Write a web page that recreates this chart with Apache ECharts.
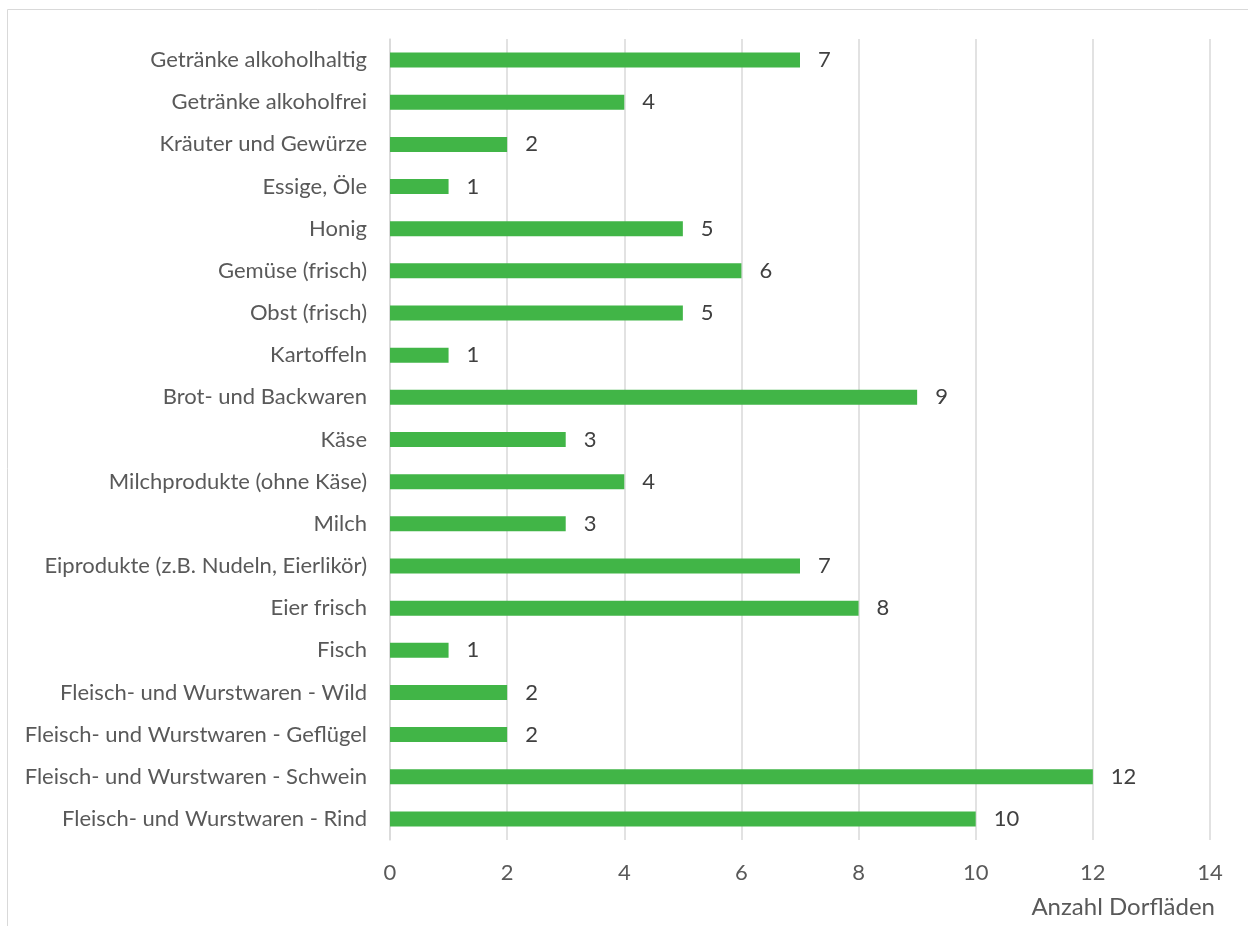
<!DOCTYPE html>
<html>
<head>
<meta charset="utf-8">
<script src="https://cdn.jsdelivr.net/npm/echarts@6/dist/echarts.min.js"></script>
<style>
  html, body { margin: 0; padding: 0; background: #fff; }
  #main { width: 1248px; height: 926px; }
</style>
</head>
<body>
<div id="main"></div>
<script>
// categories listed top to bottom as in the picture
const categories = [
  'Getränke alkoholhaltig',
  'Getränke alkoholfrei',
  'Kräuter und Gewürze',
  'Essige, Öle',
  'Honig',
  'Gemüse (frisch)',
  'Obst (frisch)',
  'Kartoffeln',
  'Brot- und Backwaren',
  'Käse',
  'Milchprodukte (ohne Käse)',
  'Milch',
  'Eiprodukte (z.B. Nudeln, Eierlikör)',
  'Eier frisch',
  'Fisch',
  'Fleisch- und Wurstwaren - Wild',
  'Fleisch- und Wurstwaren - Geflügel',
  'Fleisch- und Wurstwaren - Schwein',
  'Fleisch- und Wurstwaren - Rind'
];
const counts = [7, 4, 2, 1, 5, 6, 5, 1, 9, 3, 4, 3, 7, 8, 1, 2, 2, 12, 10];
const xTicks = { min: 0, max: 14, interval: 2 };
const xName = 'Anzahl Dorfläden';

const font = 'Lato';
const chart = echarts.init(document.getElementById('main'));

chart.setOption({
  animation: false,
  textStyle: { fontFamily: font },
  grid: { left: 390, right: 38, top: 39, bottom: 86, containLabel: false },
  graphic: [{
    type: 'rect',
    shape: { x: 7.5, y: 9.5, width: 1260, height: 940 },
    style: { fill: 'none', stroke: '#d9d9d9', lineWidth: 1 },
    silent: true
  }],
  xAxis: {
    type: 'value',
    min: xTicks.min,
    max: xTicks.max,
    interval: xTicks.interval,
    name: xName,
    nameLocation: 'end',
    nameGap: 5,
    nameTextStyle: {
      fontFamily: font, fontSize: 24, color: '#595959',
      align: 'right', verticalAlign: 'top', padding: [55, 0, 0, 0]
    },
    axisLine: { show: false },
    axisTick: { show: false },
    axisLabel: { fontFamily: font, fontSize: 22, color: '#595959', margin: 22 },
    splitLine: { show: true, lineStyle: { color: '#d9d9d9', width: 1.5 } }
  },
  yAxis: {
    type: 'category',
    inverse: true,
    data: categories,
    axisLine: { show: true, lineStyle: { color: '#d9d9d9', width: 1.5 } },
    axisTick: { show: false },
    axisLabel: { fontFamily: font, fontSize: 22, color: '#595959', margin: 23 }
  },
  series: [{
    type: 'bar',
    data: counts,
    barWidth: 15,
    itemStyle: { color: '#41b547' },
    label: {
      show: true,
      position: 'right',
      distance: 18,
      fontFamily: font,
      fontSize: 22,
      color: '#404040'
    }
  }]
});
</script>
</body>
</html>
